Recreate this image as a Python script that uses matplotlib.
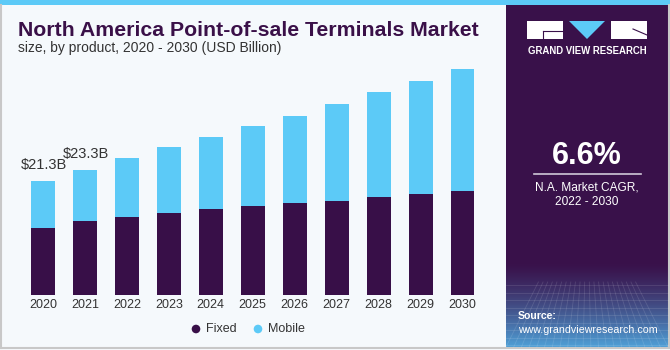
import matplotlib
matplotlib.use("Agg")
import matplotlib.pyplot as plt
import numpy as np
from matplotlib.patches import Rectangle, Polygon, Circle
from matplotlib.lines import Line2D

plt.rcParams['font.family'] = ['Liberation Sans', 'DejaVu Sans']

years = ["2020", "2021", "2022", "2023", "2024", "2025", "2026", "2027", "2028", "2029", "2030"]
fixed = [12.4, 13.7, 14.5, 15.2, 16.0, 16.6, 17.2, 17.6, 18.3, 18.8, 19.3]
mobile = [8.9, 9.6, 11.0, 12.3, 13.4, 14.9, 16.2, 17.9, 19.5, 21.0, 22.8]
labels = {0: "$21.3B", 1: "$23.3B"}
series_names = ["Fixed", "Mobile"]

C_FIXED = "#380f48"
C_MOBILE = "#5ccaf7"
C_PANEL = "#39114a"
C_BG = "#f5f9fc"

W, H = 670, 350
fig = plt.figure(figsize=(W / 100, H / 100), dpi=100)
fig.patch.set_facecolor(C_BG)

# decoration axes in pixel coordinates
bg = fig.add_axes([0, 0, 1, 1])
bg.set_xlim(0, W)
bg.set_ylim(H, 0)
bg.axis('off')
bg.add_patch(Rectangle((0, 0), W, H, facecolor=C_BG, edgecolor='none'))
bg.add_patch(Rectangle((0, 0), W, 5, facecolor="#5ccaf7", edgecolor='none'))
# border
bg.add_line(Line2D([1, 1], [5, 348], color="#c8c8c8", lw=1.5))
bg.add_line(Line2D([1, 669], [348, 348], color="#c8c8c8", lw=1.5))
bg.add_line(Line2D([668.5, 668.5], [5, 348], color="#c8c8c8", lw=1.5))
# right panel
bg.add_patch(Rectangle((506, 5), 162, 342, facecolor=C_PANEL, edgecolor='none'))
# gradient at bottom of panel
grad = np.linspace(0, 1, 100)[:, None] ** 1.3
c0 = np.array(matplotlib.colors.to_rgb(C_PANEL))
c1 = np.array(matplotlib.colors.to_rgb("#4f9fd6"))
img = c0[None, None, :] * (1 - grad[..., None]) + c1[None, None, :] * grad[..., None]
img = np.repeat(img, 2, axis=1)
bg.imshow(img, extent=(506, 668, 347, 262), aspect='auto', zorder=1, interpolation='bilinear')
# faint grid lines
for yy in np.linspace(285, 345, 9):
    bg.add_line(Line2D([506, 668], [yy, yy], color="white", alpha=0.12, lw=0.6, zorder=2))
for xx in np.linspace(506, 668, 22):
    bg.add_line(Line2D([587 + (xx - 587) * 0.6, xx], [282, 347], color="white", alpha=0.12, lw=0.6, zorder=2))
bg.set_xlim(0, W)
bg.set_ylim(H, 0)

# logo
bg.add_patch(Rectangle((527, 21), 36, 18, facecolor="white", edgecolor='none', zorder=3))
bg.add_patch(Polygon([[569, 21], [605, 21], [587, 39]], closed=True, facecolor="#5ccaf7", edgecolor='none', zorder=3))
bg.add_patch(Rectangle((611, 21), 36, 18, facecolor="white", edgecolor='none', zorder=3))
bg.add_line(Line2D([543, 563], [31, 31], color=C_PANEL, lw=0.8, zorder=4))
bg.add_line(Line2D([543, 543], [31, 39], color=C_PANEL, lw=0.8, zorder=4))
bg.add_line(Line2D([633, 647], [29, 35], color=C_PANEL, lw=0.8, zorder=4))
bg.text(587, 51.5, "GRAND VIEW RESEARCH", color="white", fontsize=6.9, fontweight='bold',
        ha='center', va='center', zorder=4)

bg.text(587, 156, "6.6%", color="white", fontsize=22, fontweight='bold', ha='center', va='center', zorder=4)
bg.add_line(Line2D([534, 641], [173.5, 173.5], color="#d0c8d8", lw=1.2, zorder=4))
bg.text(587, 187, "N.A. Market CAGR,", color="white", fontsize=8.6, ha='center', va='center', zorder=4)
bg.text(587, 202, "2022 - 2030", color="white", fontsize=8.6, ha='center', va='center', zorder=4)
bg.text(518, 316, "Source:", color="white", fontsize=7.6, fontweight='bold', ha='left', va='center', zorder=4)
bg.text(518, 330, "www.grandviewresearch.com", color="white", fontsize=7.7, ha='left', va='center', zorder=4)

# title
bg.text(18, 30, "North America Point-of-sale Terminals Market", color="#3a1048", fontsize=15.3,
        fontweight='bold', ha='left', va='center')
bg.text(18, 48, "size, by product, 2020 - 2030 (USD Billion)", color="#333333", fontsize=10,
        ha='left', va='center')

# legend
bg.add_patch(Circle((196, 329), 4.3, facecolor=C_FIXED, edgecolor='none'))
bg.text(206, 329, series_names[0], color="#333333", fontsize=9, ha='left', va='center')
bg.add_patch(Circle((258, 329), 4.3, facecolor=C_MOBILE, edgecolor='none'))
bg.text(268, 329, series_names[1], color="#333333", fontsize=9, ha='left', va='center')

# main chart axes
ax = fig.add_axes([22 / W, (H - 295) / H, 461.5 / W, 241.5 / H])
ax.set_facecolor('none')
x = np.arange(len(years))
ax.bar(x, fixed, width=0.57, color=C_FIXED, zorder=2)
ax.bar(x, mobile, width=0.57, bottom=fixed, color=C_MOBILE, zorder=2)
for i, t in labels.items():
    ax.text(x[i] + 0.02, fixed[i] + mobile[i] + 1.6, t, fontsize=10.5, color="#333333",
            ha='center', va='bottom')
ax.set_xlim(-0.5, len(years) - 0.5)
ax.set_ylim(0, 45)
ax.set_xticks(x)
ax.set_xticklabels(years, fontsize=9, color="#333333")
ax.tick_params(axis='x', length=0, pad=3)
ax.set_yticks([])
for s in ax.spines.values():
    s.set_visible(False)

fig.savefig("out.png", dpi=100, facecolor=fig.get_facecolor())
